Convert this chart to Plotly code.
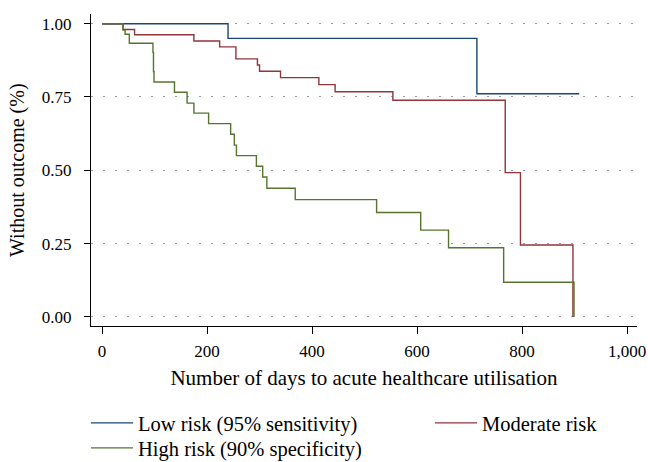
import plotly.graph_objects as go

# Low risk (95% sensitivity)
low_days = [0, 240, 714, 909]
low_surv = [1.0, 0.950, 0.761, 0.761]

# Moderate risk
mod_days = [0, 40, 62, 175, 224, 255, 296, 300, 340, 413, 444, 554, 768, 797, 897]
mod_surv = [1.0, 0.980, 0.962, 0.941, 0.921, 0.880, 0.859, 0.838, 0.816, 0.792,
            0.768, 0.739, 0.492, 0.245, 0.0]

# High risk (90% specificity)
high_days = [0, 40, 44, 52, 97, 98, 99, 138, 162, 175, 203, 245, 252, 256, 294,
             306, 314, 368, 523, 607, 660, 765, 899]
high_surv = [1.0, 0.978, 0.964, 0.933, 0.902, 0.837, 0.801, 0.766, 0.729, 0.695,
             0.659, 0.623, 0.586, 0.550, 0.514, 0.477, 0.439, 0.400, 0.356, 0.296,
             0.236, 0.118, 0.0]

x_ticks = [0, 200, 400, 600, 800, 1000]
x_tick_labels = ["0", "200", "400", "600", "800", "1,000"]
y_ticks = [0, 0.25, 0.5, 0.75, 1.0]
y_tick_labels = ["0.00", "0.25", "0.50", "0.75", "1.00"]

FONT = "Liberation Serif"
BLUE = "#1a476f"
RED = "#90353b"
GREEN = "#55752f"
W, H = 648, 462

fig = go.Figure()
fig.add_trace(go.Scatter(x=low_days, y=low_surv, mode="lines", line_shape="hv",
                         line=dict(color=BLUE, width=1.4),
                         name="Low risk (95% sensitivity)", legend="legend"))
fig.add_trace(go.Scatter(x=mod_days, y=mod_surv, mode="lines", line_shape="hv",
                         line=dict(color=RED, width=1.4),
                         name="Moderate risk", legend="legend2"))
fig.add_trace(go.Scatter(x=high_days, y=high_surv, mode="lines", line_shape="hv",
                         line=dict(color=GREEN, width=1.4),
                         name="High risk (90% specificity)", legend="legend3"))

def leg(xpx, ypx):
    return dict(orientation="v", xref="container", yref="container",
                x=xpx / W, y=1 - ypx / H, xanchor="left", yanchor="middle",
                bgcolor="rgba(0,0,0,0)", font=dict(size=20.5), itemwidth=42)

fig.update_layout(
    width=W, height=H,
    margin=dict(l=91, r=11, t=14, b=136, autoexpand=False),
    paper_bgcolor="white", plot_bgcolor="white",
    font=dict(family=FONT, size=18, color="black"),
    xaxis=dict(range=[-21, 1019], tickvals=x_ticks, ticktext=x_tick_labels,
               showgrid=False, zeroline=False, showline=True, linecolor="black",
               linewidth=1.2, ticks="outside", ticklen=7, tickwidth=1.2,
               tickcolor="black", ticklabelstandoff=2, automargin=False,
               tickangle=0, tickfont=dict(size=17),
               title=dict(text="Number of days to acute healthcare utilisation",
                          standoff=10, font=dict(size=21))),
    yaxis=dict(range=[-0.031, 1.033], tickvals=y_ticks, ticktext=y_tick_labels,
               showgrid=True, gridcolor="#9a9a9a", gridwidth=1.4,
               griddash="2px,10px", zeroline=False, showline=True,
               linecolor="black", linewidth=1.2, ticks="outside", ticklen=6,
               tickwidth=1.2, tickcolor="black", ticklabelstandoff=9,
               automargin=False, tickfont=dict(size=17)),
    annotations=[dict(text="Without outcome (%)", xref="paper", yref="paper",
                      x=(17 - 91) / 546, y=0.5, xanchor="center", yanchor="middle",
                      textangle=-90, showarrow=False, font=dict(size=20))],
    legend=leg(86, 423),
    legend2=leg(430, 423),
    legend3=leg(86, 448),
    showlegend=True,
)

fig.write_html("out.html", config={"displayModeBar": False},
               post_script="document.body.style.margin='0px';")
